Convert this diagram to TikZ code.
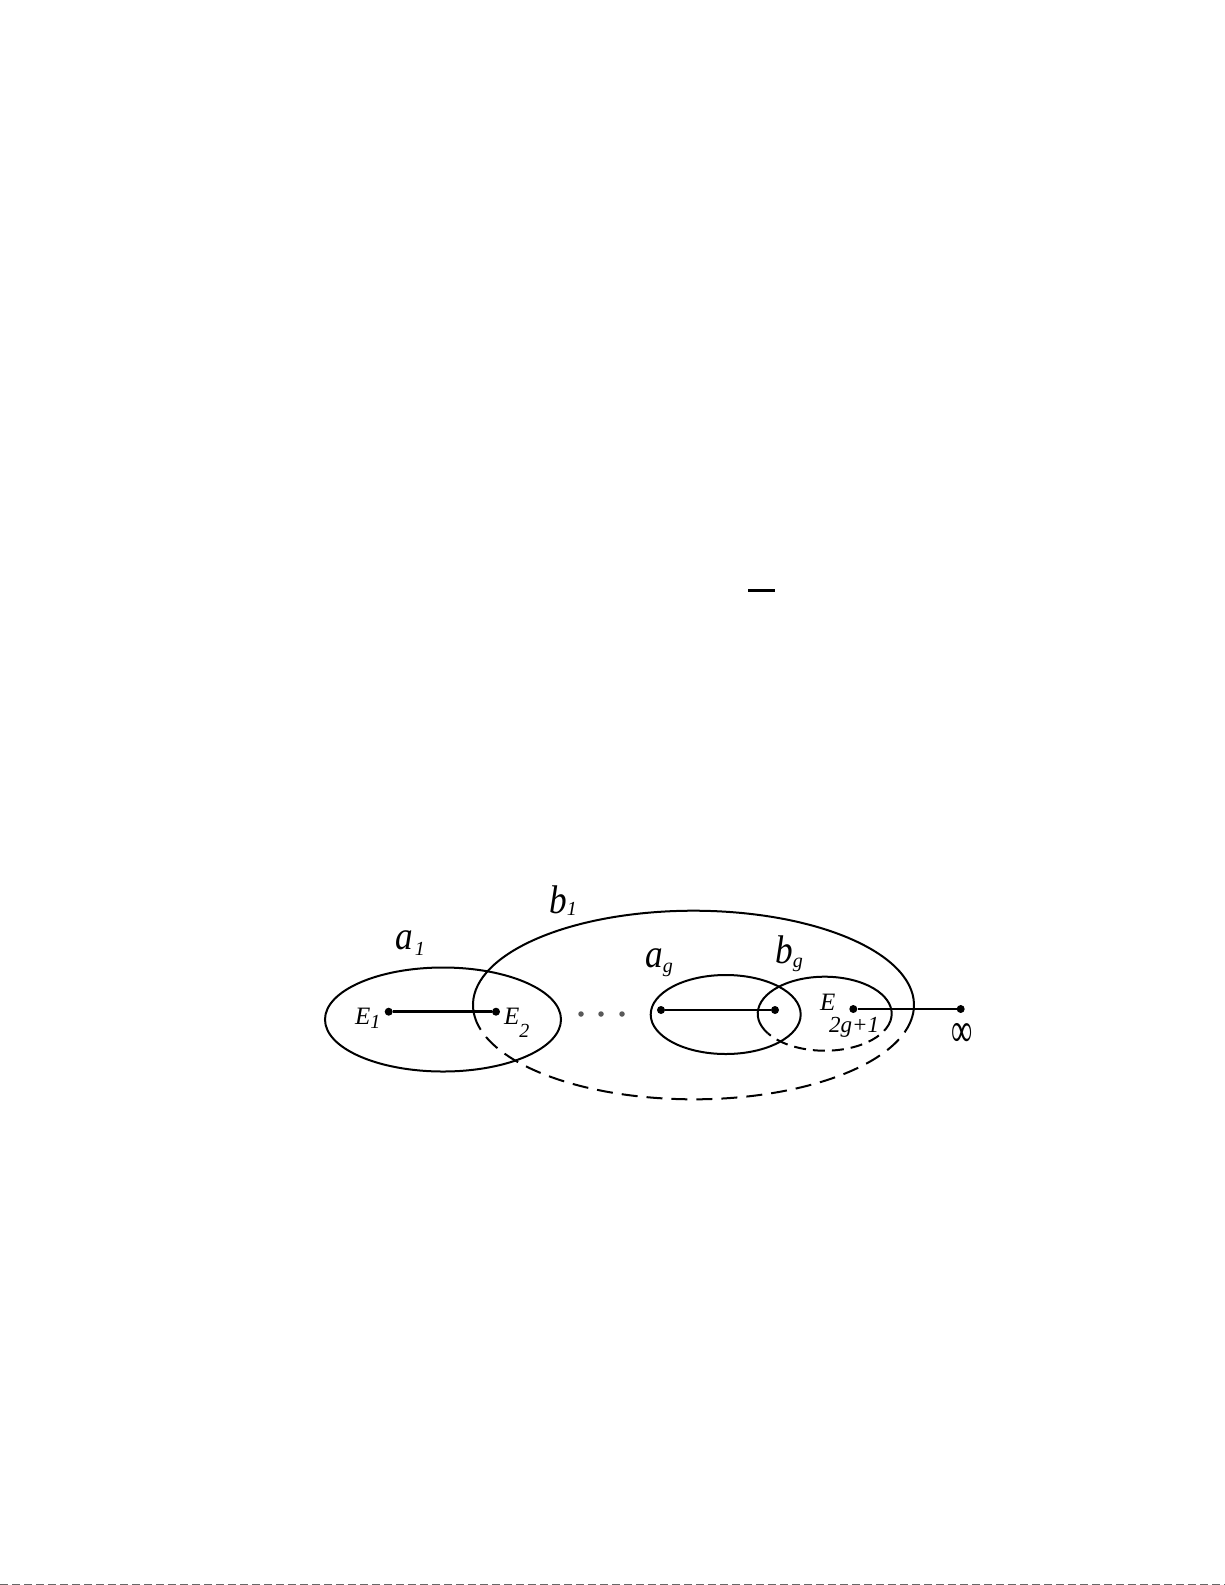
\documentclass[tikz,border=0pt]{standalone}
\usepackage{graphicx}
\usepackage{fontspec}
\setmainfont{Liberation Serif}
\newcommand{\bigit}[1]{\scalebox{0.88}[1]{\fontsize{40}{40}\selectfont\itshape #1}}
\newcommand{\midit}[1]{{\fontsize{25}{25}\selectfont\itshape #1}}
\newcommand{\subit}[2]{\raisebox{-#1pt}{\fontsize{20}{20}\selectfont\itshape #2}}
\begin{document}
\begin{tikzpicture}[x=1pt,y=-1pt,
  curve/.style={line width=2pt},
  dashcurve/.style={line width=2pt, dash pattern=on 16pt off 9pt},
  seg/.style={line width=2pt},
  dot/.style={circle, fill=black, inner sep=0pt, minimum size=8pt},
  graydot/.style={circle, fill=black!65, inner sep=0pt, minimum size=5.5pt},
  lbl/.style={inner sep=0pt, anchor=base west}]
\useasboundingbox (0,0) rectangle (1225,1585);
\fill[white] (0,0) rectangle (1225,1585);

% short bar
\coordinate (barL) at (748,590);
\coordinate (barR) at (775,590);
\draw[line width=3pt] (barL) -- (barR);

% a1 ellipse
\draw[curve] (443,1019.5) ellipse [x radius=118, y radius=52];
% b1 ellipse: solid top, dashed bottom
\draw[curve] (693.5,1005) ++(172:220.5 and 94.3) arc[start angle=172, end angle=368, x radius=220.5, y radius=94.3];
\draw[dashcurve] (693.5,1005) ++(8:220.5 and 94.3) arc[start angle=8, end angle=172, x radius=220.5, y radius=94.3];
% ag ellipse
\draw[curve] (725.7,1014.5) ellipse [x radius=75, y radius=39.5];
% bg ellipse
\draw[curve] (824.7,1013.7) ++(148:67 and 37) arc[start angle=148, end angle=371, x radius=67, y radius=37];
\draw[line width=2pt, dash pattern=on 12pt off 7pt] (824.7,1013.7) ++(11:67 and 37) arc[start angle=11, end angle=148, x radius=67, y radius=37];

% branch points
\node[dot] (E1) at (388.7,1011.7) {};
\node[dot] (E2) at (496,1011.7) {};
\node[dot] (G1) at (661,1010) {};
\node[dot] (G2) at (775,1010) {};
\node[dot] (E3) at (853.3,1009) {};
\node[dot] (Inf) at (960.7,1009) {};
\draw[line width=3pt] (E1) -- (E2);
\draw[seg] (G1) -- (G2);
\draw[seg] (E3) -- (Inf);

% ellipsis dots
\node[graydot] (d1) at (581,1014) {};
\node[graydot] (d2) at (601,1014) {};
\node[graydot] (d3) at (622,1014) {};

% labels
\node[lbl] (la1) at (395,949.5) {\bigit{a}\hspace{2pt}\subit{6}{1}};
\node[lbl] (lb1) at (549,913.5) {\bigit{b}\subit{2}{1}};
\node[lbl] (lag) at (645,967) {\bigit{a}\subit{5}{g}};
\node[lbl] (lbg) at (775,963) {\bigit{b}\subit{4}{g}};
\node[lbl] (lE1) at (355,1024) {\midit{E}\subit{4}{1}};
\node[lbl] (lE2) at (504,1024) {\midit{E}\subit{13}{2}};
\node[lbl] (lE3) at (820,1010.5) {\midit{E}};
\node[lbl] (lE3s) at (829,1032) {\fontsize{23}{23}\selectfont\itshape 2g+1};
\node[inner sep=0pt] (linf) at (962,1035) {\scalebox{0.62}[1]{\fontsize{48}{48}\selectfont ∞}};

% bottom scan edge
\coordinate (bl) at (0,1584.5);
\coordinate (br) at (1225,1584.5);
\draw[line width=1pt, black!60, dash pattern=on 8pt off 4pt] (bl) -- (br);
\end{tikzpicture}
\end{document}
